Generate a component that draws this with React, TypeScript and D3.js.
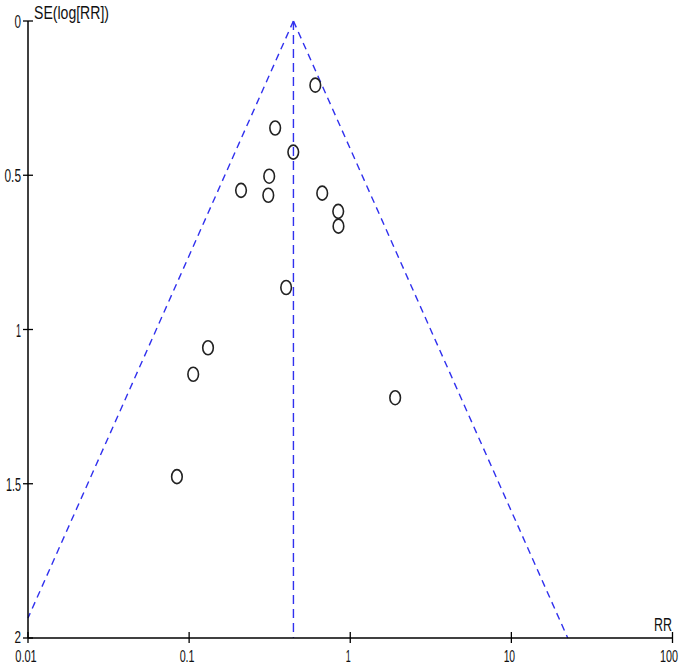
import React from "react";
import * as d3 from "d3";

const rrValues = [0.607, 0.342, 0.443, 0.314, 0.21, 0.31, 0.67, 0.842, 0.845, 0.4, 0.131, 0.106, 1.9, 0.084];
const seValues = [0.208, 0.347, 0.425, 0.503, 0.549, 0.565, 0.558, 0.617, 0.665, 0.864, 1.059, 1.145, 1.221, 1.477];
const pooledRR = 0.444;
const xTicks = [0.01, 0.1, 1, 10, 100];
const xTickLabels = ["0.01", "0.1", "1", "10", "100"];
const yTicks = [0, 0.5, 1, 1.5, 2];
const yTickLabels = ["0", "0.5", "1", "1.5", "2"];

const W = 685, H = 667;
const x = d3.scaleLog().domain([0.01, 100]).range([28, 672.5]);
const y = d3.scaleLinear().domain([0, 2]).range([21, 638]);

const font = "'Liberation Sans', Arial, sans-serif";

function condensedWidth(s: string) {
  let w = 0;
  for (const c of s) {
    if (c === ".") w += 3.5;
    else if (c === "1") w += 5;
    else w += 6.5;
  }
  return w;
}

// natural width of numeric strings in Liberation Sans
function naturalWidth(s: string, fs: number) {
  let w = 0;
  for (const c of s) w += (c === "." ? 0.278 : 0.556) * fs;
  return w;
}

// numeric tick label, horizontally condensed through a transform
function NumLabel(props: { x: number; y: number; text: string; anchor: string; fs: number }) {
  const w = condensedWidth(props.text);
  const sx = w / naturalWidth(props.text, props.fs);
  let x0 = props.x;
  if (props.anchor === "middle") x0 = props.x - w / 2;
  else if (props.anchor === "end") x0 = props.x - w;
  return (
    <text transform={`translate(${x0},${props.y}) scale(${sx},1)`} fontFamily={font} fontSize={props.fs} fill="#111">
      {props.text}
    </text>
  );
}

function Label(props: { x: number; y: number; text: string; anchor?: string; width: number }) {
  const w = props.width;
  const anchor = props.anchor ?? "start";
  let x0 = props.x;
  if (anchor === "end") x0 = props.x - w;
  return (
    <text x={x0} y={props.y} fontFamily={font} fontSize={18} fill="#111" textLength={w} lengthAdjust="spacingAndGlyphs">
      {props.text}
    </text>
  );
}

export default function App() {
  const z = 1.96;
  const seMax = 2;
  const leftLimitSE = Math.min(seMax, Math.log(pooledRR / 0.01) / z);
  const rightLimitSE = Math.min(seMax, Math.log(100 / pooledRR) / z);
  const leftPts: [number, number][] = [
    [pooledRR, 0],
    [pooledRR * Math.exp(-z * leftLimitSE), leftLimitSE],
  ];
  const rightPts: [number, number][] = [
    [pooledRR, 0],
    [pooledRR * Math.exp(z * rightLimitSE), rightLimitSE],
  ];
  const line = d3.line<[number, number]>().x((d) => x(d[0])).y((d) => y(d[1]));
  const blue = "#3030ee";
  const dash = "7,5";
  const x0 = x.range()[0];
  const yB = y.range()[1];

  return (
    <svg width={W} height={H} style={{ position: "absolute", left: 0, top: 0, background: "#fff" }}>
      <rect width={W} height={H} fill="#fff" />
      <path d={line(leftPts) || ""} stroke={blue} strokeWidth={1.4} strokeDasharray={dash} fill="none" />
      <path d={line(rightPts) || ""} stroke={blue} strokeWidth={1.4} strokeDasharray={dash} fill="none" />
      <path d={line([[pooledRR, 0], [pooledRR, 2]]) || ""} stroke={blue} strokeWidth={1.4} strokeDasharray="9,5" fill="none" />
      <line x1={x0} x2={x0} y1={y(0)} y2={yB} stroke="#000" strokeWidth={1.5} />
      <line x1={x0} x2={x.range()[1]} y1={yB} y2={yB} stroke="#000" strokeWidth={1.5} />
      {yTicks.map((t, i) => (
        <g key={"y" + i}>
          <line x1={x0 - 5} x2={x0 + 5} y1={y(t)} y2={y(t)} stroke="#000" strokeWidth={1.3} />
          <NumLabel x={21} y={y(t) + (i === yTicks.length - 1 ? 5 : 7)} text={yTickLabels[i]} anchor="end" fs={i === yTicks.length - 1 ? 17 : 18} />
        </g>
      ))}
      {xTicks.map((t, i) => (
        <g key={"x" + i}>
          <line x1={x(t)} x2={x(t)} y1={yB - 6} y2={yB + 5} stroke="#000" strokeWidth={1.3} />
          <NumLabel x={Math.min(x(t) - 2, 669)} y={yB + 24} text={xTickLabels[i]} anchor="middle" fs={17} />
        </g>
      ))}
      <Label x={34} y={19} text="SE(log[RR])" width={75} />
      <Label x={672} y={631} text="RR" anchor="end" width={18} />
      {rrValues.map((r, i) => (
        <ellipse key={"p" + i} cx={x(r)} cy={y(seValues[i])} rx={5.3} ry={7} fill="none" stroke="#222" strokeWidth={1.6} />
      ))}
    </svg>
  );
}
